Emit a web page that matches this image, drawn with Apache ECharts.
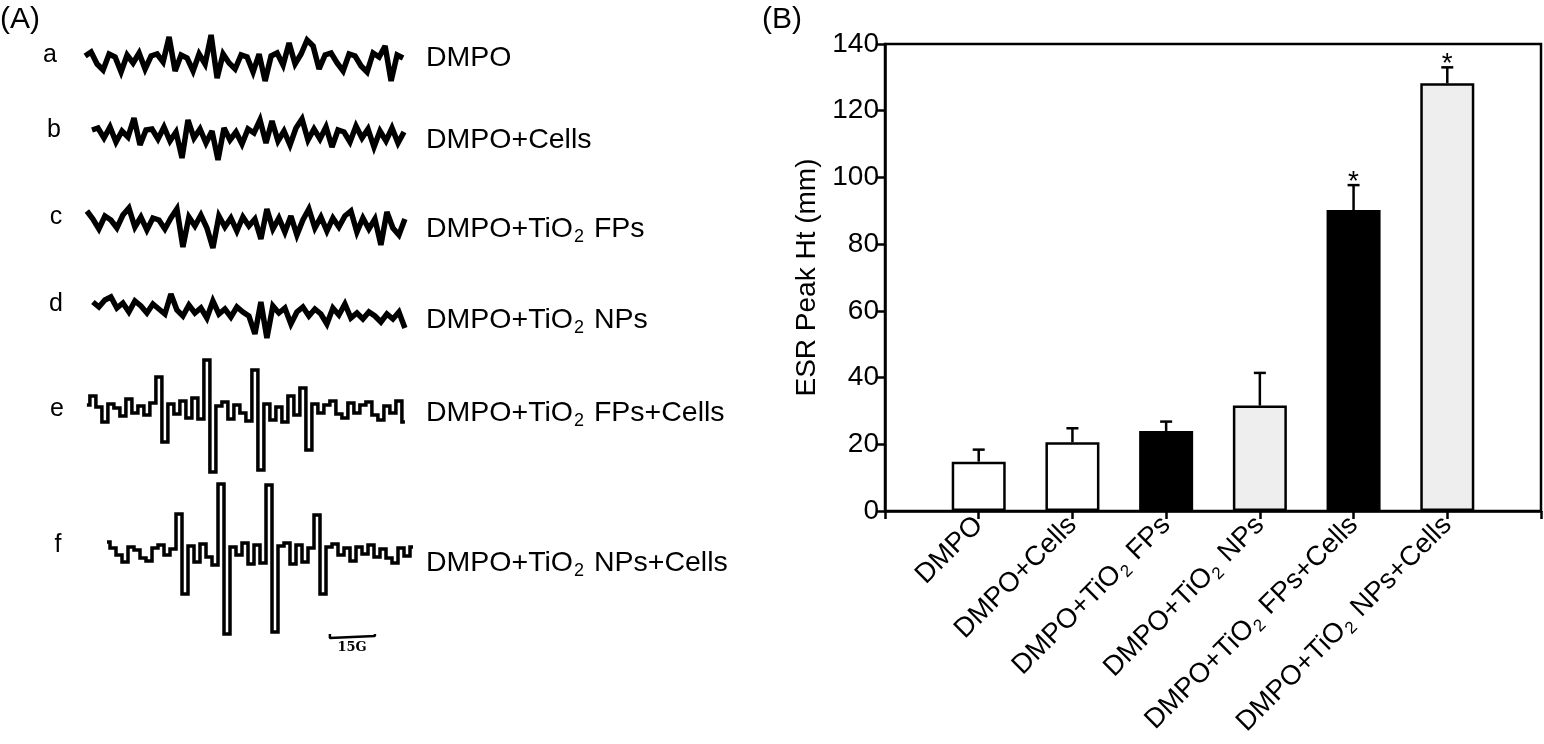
<!DOCTYPE html>
<html>
<head>
<meta charset="utf-8">
<title>ESR spectra and ESR peak height</title>
<script src="https://cdn.jsdelivr.net/npm/echarts@6/dist/echarts.min.js"></script>
<style>
  html, body { margin: 0; padding: 0; background: #fff; }
  #chart { width: 1544px; height: 744px; }
</style>
</head>
<body>
<div id="chart"></div>
<script>
// ---------- panel B data ----------
const groups = ['DMPO', 'DMPO+Cells', 'DMPO+TiO{s|2} FPs', 'DMPO+TiO{s|2} NPs', 'DMPO+TiO{s|2} FPs+Cells', 'DMPO+TiO{s|2} NPs+Cells']
const peakHt = [14.8, 20.6, 24, 31.6, 90.2, 128.2] // mm
const peakErr = [3.6, 4.2, 2.8, 9.8, 7.5, 4.8] // upper error only
const signif = ['', '', '', '', '*', '*']

// ---------- panel A data (ESR spectra, field in G, signal in a.u.) ----------
const spectrumNames = ['DMPO', 'DMPO+Cells', 'DMPO+TiO{s|2} FPs', 'DMPO+TiO{s|2} NPs', 'DMPO+TiO{s|2} FPs+Cells', 'DMPO+TiO{s|2} NPs+Cells']
const spectrumTags = ['a', 'b', 'c', 'd', 'e', 'f']
const fieldStep = 2 // G between samples
const fieldStart = [1.7, 4, 2.3, 4.3, 2.3, 9]
const baseline = [684, 609, 521, 434, 334, 192]
const traceA = [4, 8, -4, -10, 6, 3, -12, 5, -3, 7, -9, 4, 6, -2, 23, -11, 5, 2, -11, 6, -4, 25, -18, 6, -3, -9, 5, 3, -12, 6, -21, 4, 7, -5, 17, -4, 6, 20, 14, -9, 5, 7, -3, -11, 6, 4, -6, -12, 7, 3, 14, -21, 5, 2]
const traceB = [5, 7, -3, 8, -7, 4, -2, 17, -10, 5, 6, -4, 8, -6, 3, -23, 15, -3, 6, -8, 4, -25, 7, -5, 3, -9, 6, 2, 15, -8, 14, -6, 4, -10, 7, 16, -5, 6, -4, 8, -12, 5, 3, -7, 9, -3, 6, -12, 4, -6, 7, -8, 3]
const traceC = [12, 4, -6, 7, 3, -5, 8, 15, -4, 6, -7, 5, 3, -6, 5, 14, -24, 6, -3, 8, -5, -25, 7, -4, 5, -8, 6, -3, 4, -16, 14, -6, 5, -9, 7, -12, 3, 14, -5, 6, -8, 5, -4, 7, 12, -9, 5, -6, 4, -22, 11, -5, -12, 4]
const traceD = [8, 3, 10, 13, 2, 7, -2, 9, 4, -3, 6, 1, -4, 16, 0, -6, 5, -3, 2, -8, 9, -4, 1, -7, 3, -2, -6, -24, 8, -28, 4, -3, 2, -14, -2, 3, -6, 1, -4, -14, 2, -5, 6, -8, -3, -9, -2, -6, -12, -4, -9, -2, -18]
const traceE = [5, 14, 3, -12, 6, 2, -6, 11, -3, 4, -5, 7, 33, -32, 6, -4, 9, -8, 12, -9, 50, -62, 4, 8, -9, 5, -3, -11, 40, -60, 6, -10, 3, -12, 14, -5, 22, -40, 6, -3, 5, 9, -4, -8, 7, -3, 5, 8, -5, -10, 4, -3, 9, -12]
const traceF = [10, 4, -3, -10, 5, 2, -6, -9, 4, 7, -3, 3, 38, -42, 6, -10, 8, -5, -13, 68, -82, 5, -3, 9, -12, 7, -11, 67, -80, 6, 9, -12, 7, -10, 4, 37, -42, 5, 8, -3, 4, -9, 5, -2, 7, -5, 3, -6, -11, 4, -4, 5]
const traces = [traceA, traceB, traceC, traceD, traceE, traceF]
const scaleBarField = [83.3, 98.3] // 15 G
const scaleBarLevel = 108

// ---------- style ----------
const font = 'Liberation Sans, Arial, Helvetica, sans-serif'
const barFill = ['#ffffff', '#ffffff', '#000000', '#eeeeee', '#000000', '#eeeeee']
const traceWidth = [5.5, 5.5, 5.5, 5.5, 3.5, 3.5]
const traceStep = [false, false, false, false, 'middle', 'middle']
const subStyle = { fontSize: 18, fontFamily: font, color: '#000', padding: [17, 2, 0, 1] }
const nameY = [58, 140, 229, 320, 413, 563]
const tagPos = [[50, 55], [54, 130], [56, 217], [56, 304], [57, 409], [58, 545]]

const myChart = echarts.init(document.getElementById('chart'))

// 谱线
const traceSeries = traces.map(function(vals, k) {
  return {
    type: 'line',
    xAxisIndex: 0,
    yAxisIndex: 0,
    step: traceStep[k],
    symbol: 'none',
    silent: true,
    lineStyle: { color: '#000', width: traceWidth[k], join: 'miter', miterLimit: 3 },
    data: vals.map(function(v, i) { return [fieldStart[k] + i * fieldStep, baseline[k] + v] })
  }
})

// 15 G scale bar
const x0 = scaleBarField[0]
const x1 = scaleBarField[1]
traceSeries.push({
  type: 'line',
  xAxisIndex: 0,
  yAxisIndex: 0,
  symbol: 'none',
  silent: true,
  lineStyle: { color: '#000', width: 2.5 },
  data: [[x0, scaleBarLevel + 2], [x0, scaleBarLevel - 2], [x0, scaleBarLevel], [x1, scaleBarLevel], [x1, scaleBarLevel + 2], [x1, scaleBarLevel - 2]]
})

const graphics = [
  { type: 'text', x: 0, y: 20, style: { text: '(A)', fontSize: 30, fontFamily: font, fill: '#000', align: 'left', verticalAlign: 'middle' } },
  { type: 'text', x: 762, y: 20, style: { text: '(B)', fontSize: 30, fontFamily: font, fill: '#000', align: 'left', verticalAlign: 'middle' } },
  { type: 'text', x: 352, y: 648, style: { text: '15G', fontSize: 13, fontWeight: 'bold', fontFamily: 'DejaVu Serif, serif', fill: '#000', align: 'center', verticalAlign: 'middle' } }
]
spectrumTags.forEach(function(t, k) {
  graphics.push({ type: 'text', x: tagPos[k][0], y: tagPos[k][1], style: { text: t, fontSize: 25, fontFamily: font, fill: '#000', align: 'center', verticalAlign: 'middle' } })
  graphics.push({ type: 'text', x: 426, y: nameY[k], style: { text: spectrumNames[k], fontSize: 28.5, fontFamily: font, fill: '#000', align: 'left', verticalAlign: 'middle', rich: { s: subStyle } } })
})

const option = {
  animation: false,
  backgroundColor: '#fff',
  textStyle: { fontFamily: font },
  grid: [
    { left: 80, top: 0, width: 345, height: 744, show: false },
    { left: 885, right: 3, top: 44, bottom: 233, show: true, borderColor: '#000', borderWidth: 2.5, backgroundColor: 'transparent' }
  ],
  xAxis: [
    { gridIndex: 0, type: 'value', min: 0, max: 115, show: false },
    {
      gridIndex: 1,
      type: 'value',
      min: 0,
      max: 7,
      interval: 1,
      axisLine: { lineStyle: { color: '#000', width: 2.5 } },
      axisTick: { length: 8, lineStyle: { color: '#000', width: 2.5 } },
      splitLine: { show: false },
      axisLabel: {
        rotate: 45,
        margin: 10,
        fontSize: 27.5,
        color: '#000',
        fontFamily: font,
        formatter: function(v) { return (v >= 1 && v <= 6) ? groups[v - 1] : '' },
        rich: { s: { fontSize: 17, fontFamily: font, color: '#000', padding: [16, 2, 0, 1] } }
      }
    }
  ],
  yAxis: [
    { gridIndex: 0, type: 'value', min: 0, max: 744, show: false },
    {
      gridIndex: 1,
      type: 'value',
      min: 0,
      max: 140,
      interval: 20,
      name: 'ESR Peak Ht (mm)',
      nameLocation: 'middle',
      nameGap: 64,
      nameTextStyle: { fontSize: 28, color: '#000', fontFamily: font },
      axisLine: { show: true, lineStyle: { color: '#000', width: 2.5 } },
      axisTick: { show: true, length: 8, lineStyle: { color: '#000', width: 2.5 } },
      splitLine: { show: false },
      axisLabel: { fontSize: 28, color: '#000', margin: 6, fontFamily: font }
    }
  ],
  graphic: graphics,
  series: traceSeries.concat([
    {
      type: 'bar',
      xAxisIndex: 1,
      yAxisIndex: 1,
      barWidth: 54,
      silent: true,
      itemStyle: { borderColor: '#000', borderWidth: 2.5 },
      data: peakHt.map(function(v, i) { return { value: [i + 1, v], itemStyle: { color: barFill[i] } } })
    },
    {
      type: 'custom',
      xAxisIndex: 1,
      yAxisIndex: 1,
      silent: true,
      z: 5,
      data: peakHt.map(function(v, i) { return [i + 1, v, v + peakErr[i]] }),
      renderItem: function(params, api) {
        const bot = api.coord([api.value(0), api.value(1)])
        const top = api.coord([api.value(0), api.value(2)])
        const half = 6
        const st = { stroke: '#000', lineWidth: 2.5 }
        return {
          type: 'group',
          children: [
            { type: 'line', shape: { x1: bot[0], y1: bot[1], x2: top[0], y2: top[1] }, style: st },
            { type: 'line', shape: { x1: top[0] - half, y1: top[1], x2: top[0] + half, y2: top[1] }, style: st },
            { type: 'text', style: { text: signif[params.dataIndex], x: top[0], y: top[1] - 3, fontSize: 28, fontFamily: font, fill: '#000', align: 'center', verticalAlign: 'middle' } }
          ]
        }
      }
    }
  ])
}

myChart.setOption(option)
window.onresize = function() {
  myChart.resize()
}
</script>
</body>
</html>
